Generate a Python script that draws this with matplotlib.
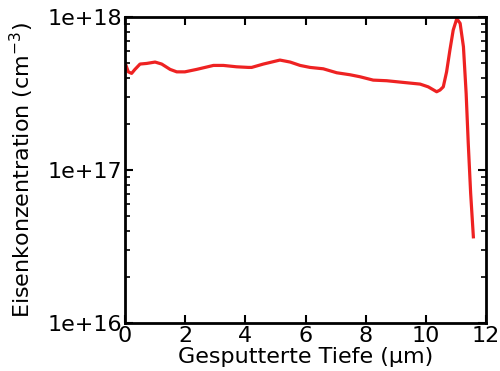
import matplotlib
matplotlib.use("Agg")
import matplotlib.pyplot as plt

# Tiefenprofil der Eisenkonzentration (log10 der Konzentration in cm^-3)
depth_um = [0.03, 0.11, 0.22, 0.33, 0.50, 0.72, 1.00, 1.22, 1.50, 1.72, 1.99,
            2.38, 2.94, 3.27, 3.71, 4.10, 4.21, 4.60, 5.15, 5.49, 5.82, 6.15,
            6.59, 7.04, 7.48, 7.81, 8.15, 8.25, 8.70, 9.25, 9.81, 10.08, 10.36,
            10.47, 10.58, 10.69, 10.80, 10.91, 11.03, 11.14, 11.25, 11.34,
            11.41, 11.49, 11.58]
log_conc = [17.686, 17.642, 17.632, 17.658, 17.693, 17.697, 17.706, 17.693,
            17.658, 17.642, 17.642, 17.658, 17.684, 17.684, 17.675, 17.671,
            17.671, 17.693, 17.719, 17.706, 17.684, 17.671, 17.662, 17.636,
            17.623, 17.610, 17.593, 17.588, 17.584, 17.573, 17.562, 17.544,
            17.512, 17.523, 17.544, 17.642, 17.784, 17.915, 17.990, 17.959,
            17.806, 17.501, 17.175, 16.848, 16.564]
conc = [10 ** v for v in log_conc]

fig = plt.figure(figsize=(5, 3.71), dpi=100)
ax = fig.add_axes([0.25, 0.129, 0.722, 0.825])

ax.plot(depth_um, conc, color='#ee2222', linewidth=2.3,
        solid_joinstyle='round')

ax.set_yscale('log')
ax.set_xlim(0, 12)
ax.set_ylim(1e16, 1e18)
ax.set_xticks([0, 2, 4, 6, 8, 10, 12])
ax.set_yticks([1e16, 1e17, 1e18])
ax.set_yticklabels(['1e+16', '1e+17', '1e+18'])
ax.xaxis.set_minor_locator(matplotlib.ticker.NullLocator())

for s in ax.spines.values():
    s.set_linewidth(2)
ax.tick_params(which='both', direction='in', top=True, right=True,
               labelsize=16, pad=2)
ax.tick_params(which='major', length=6, width=1.5)
ax.tick_params(which='minor', length=3.5, width=1.2)

ax.set_xlabel('Gesputterte Tiefe (µm)', fontsize=16, labelpad=1)
ax.set_ylabel('Eisenkonzentration (cm$^{-3}$)', fontsize=16, labelpad=8)

fig.savefig('out.png', dpi=100)
